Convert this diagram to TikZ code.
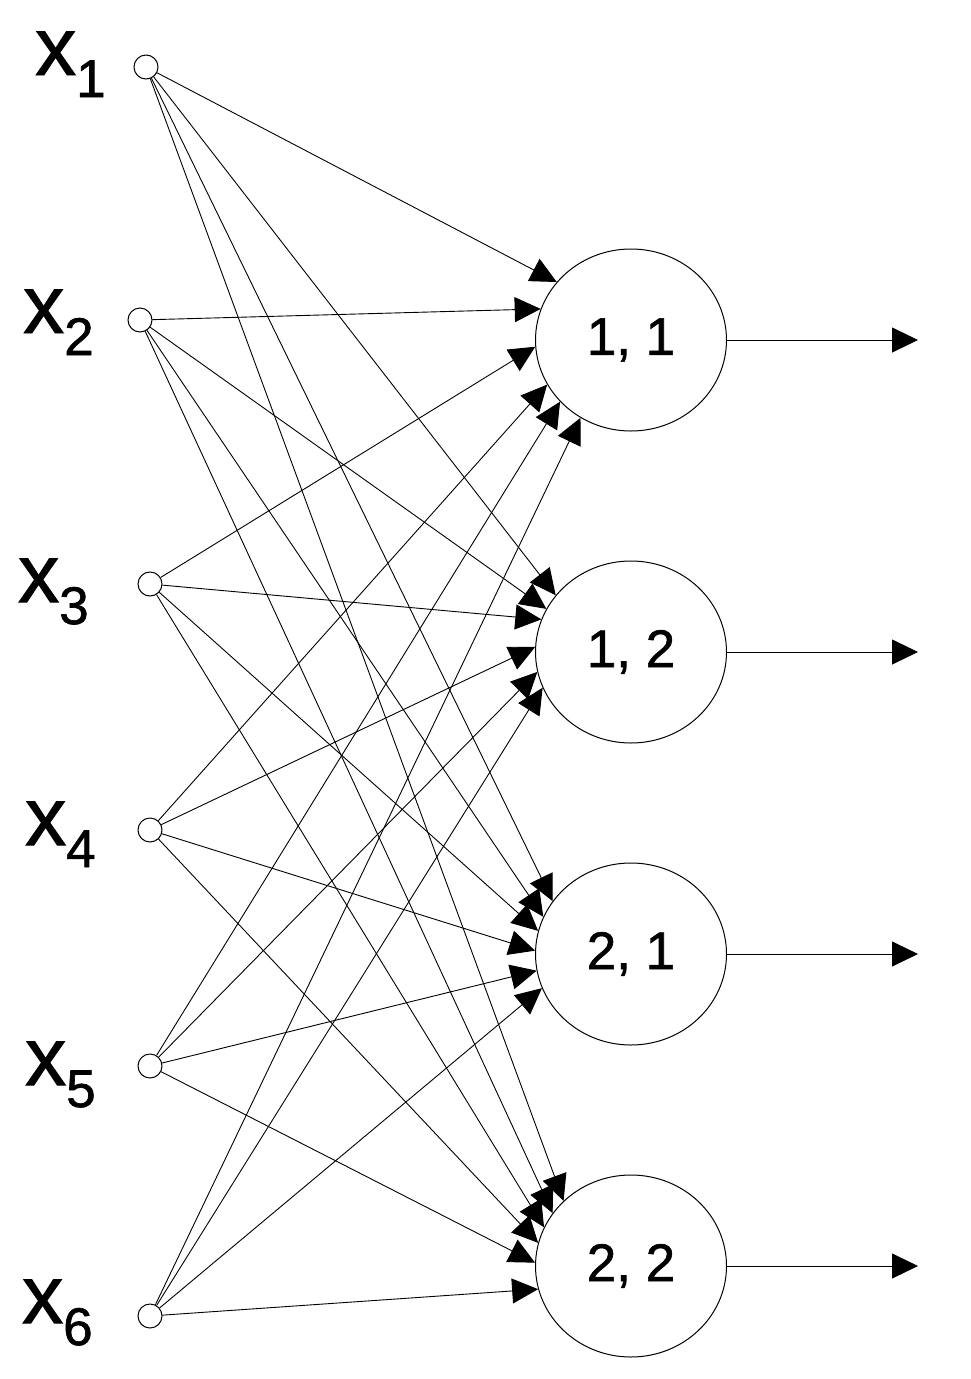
\documentclass[tikz,border=0pt]{standalone}
\usepackage{fontspec}
\setmainfont{Liberation Sans}
\newfontfamily\labfont{Liberation Sans}[FakeBold=1.2]
\usepackage{tikz}
\usetikzlibrary{arrows.meta,shapes.geometric}

\begin{document}
\begin{tikzpicture}[x=1pt,y=-1pt,
	inp/.style={circle,draw,line width=1pt,minimum size=24pt,inner sep=0pt},
	neuron/.style={ellipse,draw,line width=1pt,minimum width=191pt,minimum height=182pt,inner sep=0pt,font=\labfont\fontsize{53}{53}\selectfont},
	conn/.style={line width=0.9pt,-{Triangle[length=26pt,width=25pt]}},
	lab/.style={anchor=base west,inner sep=0pt}]
	\useasboundingbox (0,0) rectangle (971,1379);
	%\draw[help lines] (0,0) grid[step=100] (971,1379);
	% inputs
	\node[inp] (x1) at (146,67) {};
	\node[inp] (x2) at (140,320) {};
	\node[inp] (x3) at (150,584) {};
	\node[inp] (x4) at (150,830) {};
	\node[inp] (x5) at (150,1066) {};
	\node[inp] (x6) at (150,1316) {};
	\newcommand{\xlab}[1]{{\labfont\fontsize{82}{82}\selectfont x}\raisebox{-22pt}{\labfont\fontsize{53}{53}\selectfont #1}}
	\node[lab] (l1) at (35,75) {\xlab{1}};
	\node[lab] (l2) at (23,333) {\xlab{2}};
	\node[lab] (l3) at (18,602) {\xlab{3}};
	\node[lab] (l4) at (25,845) {\xlab{4}};
	\node[lab] (l5) at (25,1085) {\xlab{5}};
	\node[lab] (l6) at (22,1323) {\xlab{6}};
	% neurons
	\node[neuron] (n11) at (631,340) {1, 1};
	\node[neuron] (n12) at (631,652) {1, 2};
	\node[neuron] (n21) at (631,954) {2, 1};
	\node[neuron] (n22) at (631,1266) {2, 2};
	% outputs
	\coordinate (o11) at (918,340);
	\coordinate (o12) at (918,652);
	\coordinate (o21) at (918,954);
	\coordinate (o22) at (918,1266);
	\draw[conn] (n11.east) -- (o11);
	\draw[conn] (n12.east) -- (o12);
	\draw[conn] (n21.east) -- (o21);
	\draw[conn] (n22.east) -- (o22);
	% weights
	\draw[conn] (x1) -- (n11.142);
	\draw[conn] (x1) -- (n12.143);
	\draw[conn] (x1) -- (n21.146);
	\draw[conn] (x1) -- (n22.136);
	\draw[conn] (x2) -- (n11.161);
	\draw[conn] (x2) -- (n12.153);
	\draw[conn] (x2) -- (n21.157);
	\draw[conn] (x2) -- (n22.146);
	\draw[conn] (x3) -- (n11.184);
	\draw[conn] (x3) -- (n12.160);
	\draw[conn] (x3) -- (n21.166);
	\draw[conn] (x3) -- (n22.156);
	\draw[conn] (x4) -- (n11.208);
	\draw[conn] (x4) -- (n12.177);
	\draw[conn] (x4) -- (n21.178);
	\draw[conn] (x4) -- (n22.166);
	\draw[conn] (x5) -- (n11.221);
	\draw[conn] (x5) -- (n12.192);
	\draw[conn] (x5) -- (n21.190);
	\draw[conn] (x5) -- (n22.178);
	\draw[conn] (x6) -- (n11.237);
	\draw[conn] (x6) -- (n12.202);
	\draw[conn] (x6) -- (n21.201);
	\draw[conn] (x6) -- (n22.194);
\end{tikzpicture}
\end{document}
